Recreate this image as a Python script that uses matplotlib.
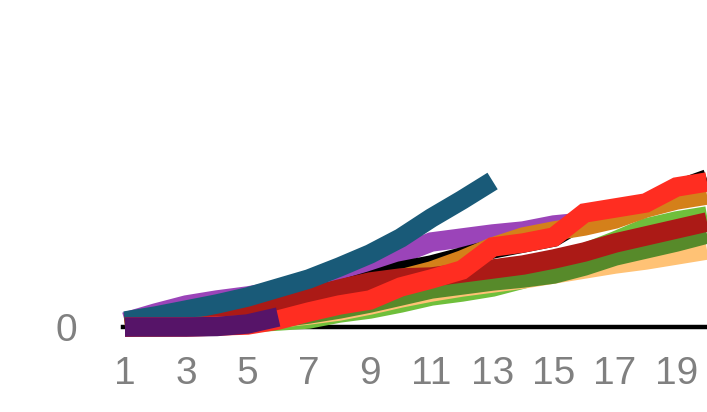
import matplotlib
matplotlib.use("Agg")
import matplotlib.pyplot as plt

x = list(range(1, 21))

teal = [6, 11, 17, 23, 30, 39, 48, 60, 73, 89, 109, 127, 146]
purple = [5, 14, 22, 27, 31, 36, 42, 50, 60, 73, 85, 89, 93, 96, 102, 105]
black = [2, 5, 9, 14, 20, 25, 31, 37, 46, 56, 62, 70, 78, 84, 90, 108, 115, 123, 137, 148]
orange = [1, 3, 6, 10, 14, 18, 24, 30, 38, 48, 56, 67, 80, 90, 96, 101, 108, 119, 127, 132]
light_green = [0, 0, 1, 2, 4, 6, 8, 14, 18, 24, 31, 35, 40, 48, 60, 74, 86, 99, 106, 111]
dark_red = [0, 2, 5, 9, 13, 20, 30, 38, 45, 49, 50, 54, 58, 62, 68, 75, 84, 91, 98, 105]
dark_green = [0, 1, 2, 4, 6, 9, 13, 18, 24, 31, 38, 42, 46, 49, 53, 61, 71, 78, 85, 93]
light_orange = [0, 1, 2, 4, 6, 9, 12, 16, 22, 29, 35, 40, 44, 48, 53, 58, 63, 67, 72, 77]
red = [0, 0, 0, 1, 2, 7, 15, 22, 27, 40, 48, 57, 80, 84, 90, 114, 119, 124, 140, 145]
dark_purple = [0, 0, 0, 0.5, 3, 10]

xticks = [1, 3, 5, 7, 9, 11, 13, 15, 17, 19]
yticks = [0]

# bottom-to-top drawing order
series = [
    (light_green, "#6fbf3b"),
    (light_orange, "#ffc275"),
    (dark_green, "#578a2a"),
    (purple, "#9b44b9"),
    (black, "#000000"),
    (orange, "#d4801a"),
    (dark_red, "#ab1a16"),
    (teal, "#195a78"),
    (red, "#ff2d21"),
    (dark_purple, "#561468"),
]

W, H = 707, 412
fig = plt.figure(figsize=(W / 100, H / 100), dpi=100)
left_px, bottom_px = 123, 327
ax = fig.add_axes([left_px / W, (H - bottom_px) / H, (W - left_px) / W, bottom_px / H])

ax.axhline(0, color="black", lw=3.2, zorder=1, clip_on=False)

for i, (vals, col) in enumerate(series):
    ax.plot(x[:len(vals)], vals, color=col, lw=14, solid_capstyle="butt",
            solid_joinstyle="miter", zorder=2 + i, clip_on=False)

unit = (W - 125) / 19.0
ax.set_xlim(1 - (125 - left_px) / unit, 20)
ax.set_ylim(0, bottom_px)
ax.set_xticks(xticks)
ax.set_xticklabels([str(t) for t in xticks])
ax.set_yticks(yticks)
ax.set_yticklabels([str(t) for t in yticks])
for s in ax.spines.values():
    s.set_visible(False)
ax.tick_params(axis="x", length=0, pad=21, labelsize=28, labelcolor="#808080")
ax.tick_params(axis="y", length=0, pad=33, labelsize=28, labelcolor="#808080")
for lab in ax.get_xticklabels() + ax.get_yticklabels():
    lab.set_family(["Liberation Sans", "DejaVu Sans"])

fig.savefig("out.png", dpi=100)
